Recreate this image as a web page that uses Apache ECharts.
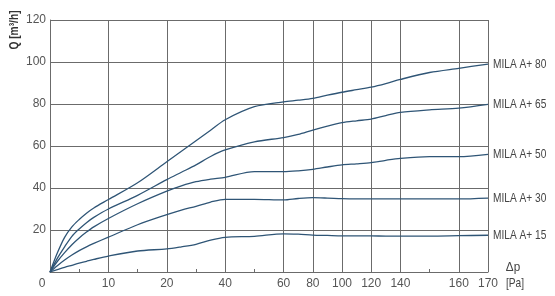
<!DOCTYPE html>
<html>
<head>
<meta charset="utf-8">
<script src="https://cdn.jsdelivr.net/npm/echarts@6/dist/echarts.min.js"></script>
<style>
html,body{margin:0;padding:0;background:#fff;}
#c{width:555px;height:296px;}
</style>
</head>
<body>
<div id="c"></div>
<script>
// Non-linear Δp axis: tick values (Pa) and their positions on the drawn axis
var tickPa  = [0, 10, 20, 40, 60, 80, 100, 120, 140, 160, 170];
var tickPos = [0, 2, 4, 6, 8, 9, 10, 11, 12, 14, 15];

// Sample pressures (Pa)
var pressure = [0, 1.25, 2.5, 3.75, 5, 6.25, 7.5, 10, 15, 20, 25, 30, 35, 40, 50, 60, 70, 80, 90, 100, 110, 120, 130, 140, 150, 160, 170];

// Flow Q [m³/h] per model
var mila80 = [0, 9, 16.5, 21.5, 25, 28, 30.5, 34.5, 42.5, 52.5, 57.5, 62.5, 67.5, 72.5, 78.7, 81, 81.8, 82.7, 84.2, 85.6, 86.8, 88, 89.7, 91.7, 95, 97, 99];
var mila65 = [0, 6.5, 12, 17, 20.5, 23.5, 26, 30, 36.5, 44, 47.5, 51, 55, 58.1, 62, 64, 65.5, 67.6, 69.5, 71.1, 72, 72.8, 74.5, 76, 77.2, 78, 79.8];
var mila50 = [0, 5, 9.2, 13, 16.2, 19, 21.5, 25.5, 32.5, 38.5, 41, 43, 44.2, 45.1, 47.8, 47.8, 48.2, 48.9, 50, 51, 51.5, 52.1, 53.2, 54.1, 54.9, 54.9, 56];
var mila30 = [0, 3, 5.7, 8.1, 10.2, 12, 13.6, 16.6, 22.5, 27.3, 29.5, 31.3, 33.3, 34.6, 34.6, 34.3, 35, 35.4, 35.2, 34.9, 34.8, 34.8, 34.8, 34.8, 34.8, 34.8, 35.2];
var mila15 = [0, 1.1, 2.2, 3.2, 4.2, 5.1, 6, 7.6, 10, 11, 12, 13.2, 15.2, 16.5, 17, 18.2, 18, 17.6, 17.4, 17.2, 17.2, 17.2, 17.1, 17.1, 17.1, 17.3, 17.5];

var seriesNames = ['MILA A+ 80', 'MILA A+ 65', 'MILA A+ 50', 'MILA A+ 30', 'MILA A+ 15'];
var seriesValues = [mila80, mila65, mila50, mila30, mila15];

function paToPos(pa) {
  for (var i = 1; i < tickPa.length; i++) {
    if (pa <= tickPa[i]) {
      var a = tickPa[i - 1], b = tickPa[i];
      return tickPos[i - 1] + (pa - a) / (b - a) * (tickPos[i] - tickPos[i - 1]);
    }
  }
  return tickPos[tickPos.length - 1];
}

var FONT = "'Liberation Sans', Arial, sans-serif";
var GRID = '#6b6b6b';
var LINE = '#2f5576';
var NARROW = 0.78;

var splitColors = [];
for (var p = 0; p <= 15; p++) {
  splitColors.push(tickPos.indexOf(p) >= 0 ? GRID : 'rgba(0,0,0,0)');
}

var chart = echarts.init(document.getElementById('c'));
chart.setOption({
  animation: false,
  grid: { left: 50, right: 67, top: 20, bottom: 24, containLabel: false },
  xAxis: {
    type: 'value', min: 0, max: 15, interval: 1,
    axisLine: { show: true, lineStyle: { color: GRID, width: 1 } },
    axisTick: { show: true, inside: true, length: 3, lineStyle: { color: GRID } },
    splitLine: { show: true, lineStyle: { color: splitColors, width: 1 } },
    axisLabel: {
      color: '#555', fontFamily: FONT, fontSize: 12, margin: 6,
      formatter: function (v) {
        var i = tickPos.indexOf(v);
        if (i < 0) return '';
        if (v === 0) return '{z|0}';
        return String(tickPa[i]);
      },
      rich: { z: { padding: [0, 16, 0, 0], color: '#555', fontFamily: FONT, fontSize: 12 } }
    }
  },
  yAxis: {
    type: 'value', min: 0, max: 120, interval: 20,
    axisLine: { show: true, lineStyle: { color: GRID, width: 1 } },
    axisTick: { show: false },
    splitLine: { show: true, lineStyle: { color: GRID, width: 1 } },
    axisLabel: { color: '#555', fontFamily: FONT, fontSize: 12, margin: 4, showMinLabel: false }
  },
  series: seriesNames.map(function (name, k) {
    return {
      name: name, type: 'line', smooth: 0.3, showSymbol: false,
      lineStyle: { color: LINE, width: 1.3 },
      itemStyle: { color: LINE },
      data: pressure.map(function (pa, i) { return [paToPos(pa), seriesValues[k][i]]; })
    };
  })
});

// Condensed-looking labels: series names at line ends, axis names
var graphics = [
  { type: 'text', x: 15, y: 30, rotation: Math.PI / 2, scaleX: 0.85,
    style: { text: 'Q [m³/h]', font: 'bold 12px ' + FONT, fill: '#333', align: 'center', verticalAlign: 'middle' } },
  { type: 'text', x: 513, y: 267, scaleX: 0.9,
    style: { text: 'Δp', font: '13px ' + FONT, fill: '#444', align: 'center', verticalAlign: 'middle' } },
  { type: 'text', x: 515, y: 283, scaleX: NARROW,
    style: { text: '[Pa]', font: '13px ' + FONT, fill: '#444', align: 'center', verticalAlign: 'middle' } }
];
seriesNames.forEach(function (name, k) {
  var last = seriesValues[k].length - 1;
  var pt = chart.convertToPixel({ gridIndex: 0 }, [paToPos(pressure[last]), seriesValues[k][last]]);
  graphics.push({
    type: 'text', x: pt[0] + 5, y: pt[1], scaleX: NARROW,
    style: { text: name, font: '13px ' + FONT, fill: '#444', align: 'left', verticalAlign: 'middle' }
  });
});
chart.setOption({ graphic: graphics });
</script>
</body>
</html>
